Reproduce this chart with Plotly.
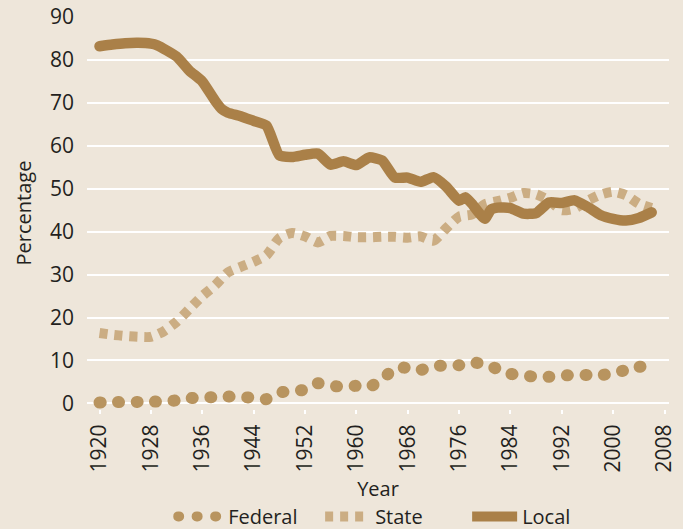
import plotly.graph_objects as go

# ---- data ----
federal_years = [1920, 1922, 1924, 1926, 1928, 1930, 1932, 1934, 1936, 1938, 1940, 1942, 1944, 1946,
                 1948, 1950, 1952, 1954, 1956, 1958, 1960, 1962, 1964, 1966, 1968, 1970, 1972, 1974,
                 1976, 1978, 1980, 1982, 1984, 1986, 1988, 1990, 1992, 1994, 1996, 1998, 2000, 2002,
                 2004, 2006]
federal_values = [0.2, 0.3, 0.3, 0.35, 0.4, 0.5, 0.7, 1.2, 1.4, 1.45, 1.6, 1.5, 1.3, 1.0,
                  2.5, 2.9, 3.2, 4.7, 4.1, 3.9, 4.1, 3.9, 5.5, 8.2, 8.3, 7.8, 8.7, 8.8,
                  8.9, 9.5, 9.2, 8.0, 6.9, 6.5, 6.2, 6.2, 6.5, 6.6, 6.6, 6.6, 7.0, 7.8,
                  8.5, 8.7]

state_years = [1920, 1922, 1924, 1926, 1928, 1930, 1932, 1934, 1936, 1938, 1940, 1942, 1944, 1946,
               1948, 1950, 1952, 1954, 1956, 1958, 1960, 1962, 1964, 1966, 1968, 1970, 1972, 1974,
               1976, 1978, 1980, 1982, 1984, 1986, 1988, 1990, 1992, 1994, 1996, 1998, 2000, 2002,
               2004, 2006]
state_values = [16.4, 16.0, 15.7, 15.5, 15.5, 16.8, 19.0, 22.0, 25.0, 27.5, 30.5, 31.8, 33.0, 34.5,
                38.5, 39.7, 38.9, 37.5, 39.0, 39.0, 38.7, 38.7, 38.8, 38.8, 38.6, 38.9, 37.9, 40.8,
                43.5, 44.0, 46.4, 47.1, 47.9, 49.0, 48.7, 47.3, 45.0, 45.4, 47.2, 48.6, 49.3, 48.5,
                46.5, 45.5]

local_years = [1920, 1922, 1924, 1926, 1928, 1929, 1932, 1934, 1936, 1938, 1939, 1940, 1942, 1944,
               1946, 1948, 1950, 1952, 1954, 1956, 1958, 1960, 1962, 1964, 1966, 1968, 1970, 1972,
               1974, 1976, 1977, 1978, 1980, 1981, 1982, 1984, 1986, 1988, 1990, 1992, 1994, 1996,
               1998, 2000, 2002, 2004, 2006]
local_values = [83.2, 83.6, 83.9, 84.0, 83.8, 83.4, 80.8, 77.5, 75.0, 70.5, 68.6, 67.7, 66.9, 65.8,
                64.7, 57.8, 57.4, 57.9, 58.2, 55.6, 56.4, 55.5, 57.3, 56.6, 52.6, 52.6, 51.6, 52.7,
                50.5, 47.2, 48.0, 46.5, 43.0, 45.2, 45.6, 45.5, 44.2, 44.3, 46.8, 46.7, 47.3, 45.8,
                43.9, 43.0, 42.6, 43.2, 44.5]

x_tick_labels = ["1920", "1928", "1936", "1944", "1952", "1960", "1968", "1976", "1984", "1992", "2000", "2008"]
y_tick_values = [0, 10, 20, 30, 40, 50, 60, 70, 80, 90]

# ---- styles ----
BG = "#EEE6DA"
C_FED = "#B8945F"
C_STATE = "#CBAD83"
C_LOCAL = "#AA8048"
TXT = "#231F20"
FONT = "Open Sans"

fig = go.Figure()
fig.add_trace(go.Scatter(
    x=federal_years, y=federal_values, name="Federal", mode="lines",
    line=dict(color=C_FED, width=12, dash="1px,17.5px", shape="spline", smoothing=0.6),
    hoverinfo="skip"))
fig.add_trace(go.Scatter(
    x=state_years, y=state_values, name="State", mode="lines",
    line=dict(color=C_STATE, width=10, dash="8px,7px", shape="spline", smoothing=0.6),
    hoverinfo="skip"))
fig.add_trace(go.Scatter(
    x=local_years, y=local_values, name="Local", mode="lines",
    line=dict(color=C_LOCAL, width=10.5, shape="spline", smoothing=0.5),
    hoverinfo="skip"))

fig.update_layout(
    width=683, height=529,
    paper_bgcolor=BG, plot_bgcolor=BG,
    margin=dict(l=86.5, r=14, t=17, b=120.3, autoexpand=False),
    font=dict(family=FONT, size=20, color=TXT),
    showlegend=True,
    legend=dict(orientation="h", x=0.148, xanchor="left", y=-0.274, yanchor="middle",
                bgcolor="rgba(0,0,0,0)", font=dict(size=20, color=TXT), itemwidth=45,
                entrywidth=87, traceorder="normal"),
    xaxis=dict(
        range=[1918.05, 2008.7],
        tickmode="array",
        tickvals=[int(t) for t in x_tick_labels],
        ticktext=x_tick_labels,
        tickangle=-90,
        ticks="outside", ticklen=4, tickwidth=2, tickcolor="white",
        showgrid=False, zeroline=False, showline=False,
        tickfont=dict(size=21, color=TXT),
        title=dict(text="Year", font=dict(size=20, color=TXT), standoff=10),
        ticklabelstandoff=2,
    ),
    yaxis=dict(
        range=[-1.3, 90],
        tickmode="array",
        tickvals=y_tick_values,
        showgrid=True, gridcolor="white", gridwidth=2,
        zeroline=False, showline=False,
        ticks="", tickfont=dict(size=21, color=TXT),
        ticklabelstandoff=12,
        title=dict(text="Percentage", font=dict(size=20, color=TXT), standoff=12),
    ),
)

post = """
document.body.style.margin = '0';
document.body.style.padding = '0';
document.body.style.overflow = 'hidden';
var gd = document.getElementById('{plot_id}');
function fixCaps(){
  var traces = gd.querySelectorAll('.scatterlayer .trace');
  traces.forEach(function(t, i){
    var cap = (i === 1) ? 'butt' : 'round';
    t.querySelectorAll('path.js-line').forEach(function(p){
      p.style.strokeLinecap = cap; p.style.strokeLinejoin = 'round';
    });
  });
  var leg = gd.querySelectorAll('.legend .traces');
  leg.forEach(function(t, i){
    var cap = (i === 0) ? 'round' : 'butt';
    t.querySelectorAll('path.js-line').forEach(function(p){ p.style.strokeLinecap = cap; });
  });
}
fixCaps();
gd.on('plotly_afterplot', fixCaps);
"""

fig.write_html("out.html", post_script=post, config={"displayModeBar": False})
